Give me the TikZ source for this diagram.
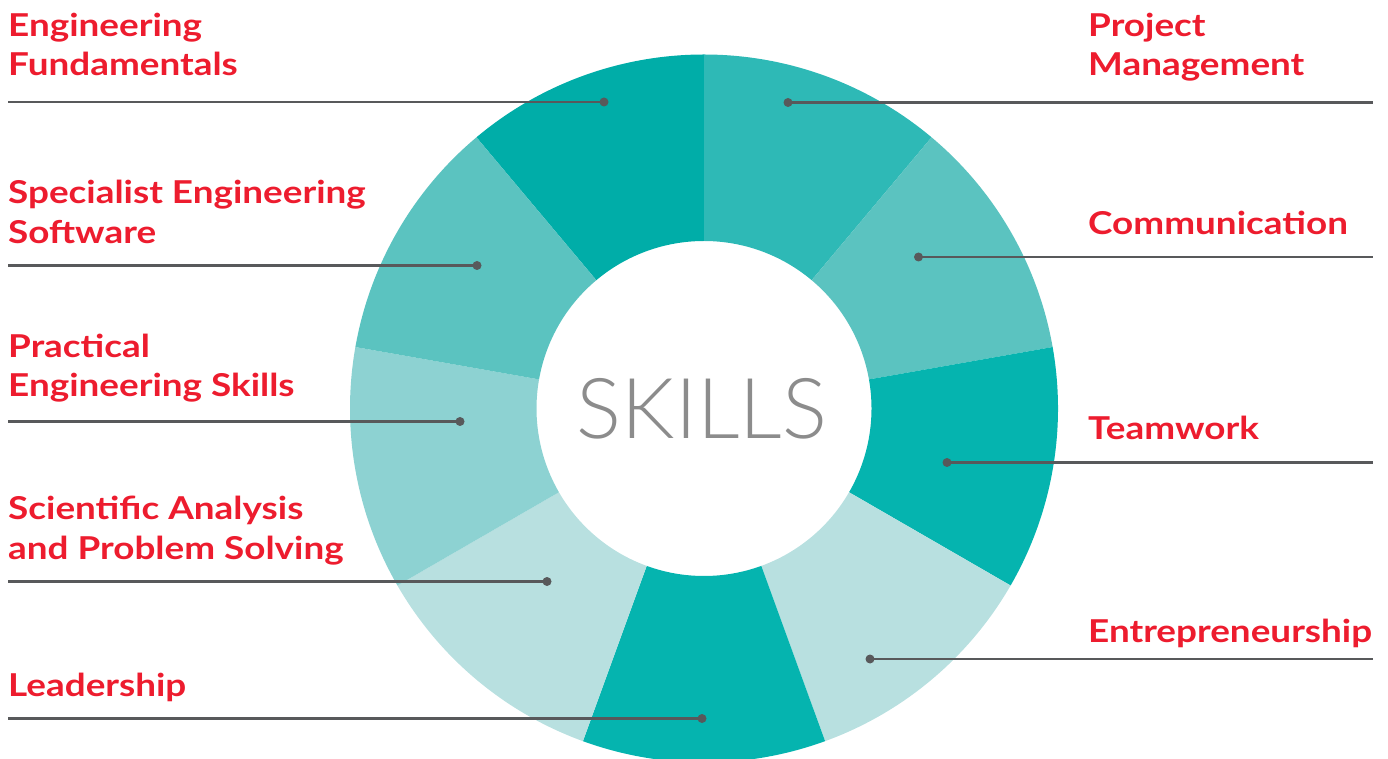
\documentclass[tikz,border=0pt]{standalone}
\usepackage{fontspec}
\setmainfont{Lato}[FakeStretch=1.17]
\newfontfamily\thinfont{Lato Light}
\usetikzlibrary{positioning}
\definecolor{skillred}{HTML}{ED1C2E}
\definecolor{linegray}{HTML}{58595B}
\definecolor{skillgray}{HTML}{8C8C8C}
\definecolor{teal1}{HTML}{00ADA8}
\definecolor{teal2}{HTML}{2EB9B6}
\definecolor{teal3}{HTML}{5BC3C0}
\definecolor{teal4}{HTML}{05B4AF}
\definecolor{teal5}{HTML}{8DD2D2}
\definecolor{teal6}{HTML}{B8E0E0}
\tikzstyle{dot}=[circle,fill=linegray,inner sep=0pt,minimum size=9pt]
\tikzstyle{leader}=[draw=linegray,line width=2.2pt]
\tikzstyle{lbl}=[anchor=base west,inner sep=0pt,align=left,text=skillred,font=\fontsize{31.5}{39.5}\selectfont\bfseries]

\begin{document}
\begin{tikzpicture}[x=1pt,y=1pt]
	\useasboundingbox (0,0) rectangle (1388,758);
	\clip (0,0) rectangle (1388,758);
	\coordinate (c) at (704,349.5);
	% ring of nine segments
	\foreach \a/\b/\col in {90/130/teal1, 50/90/teal2, 10/50/teal3, -30/10/teal4, -70/-30/teal6,
	                        -110/-70/teal4, -150/-110/teal6, 170/210/teal5, 130/170/teal3}
		\fill[\col] ([shift={(\a:354)}]c) arc[start angle=\a,end angle=\b,radius=354]
			-- ([shift={(\b:167.5)}]c) arc[start angle=\b,end angle=\a,radius=167.5] -- cycle;
	\node[font=\thinfont\fontsize{84}{84}\selectfont,text=skillgray,xshift=-2pt] (skills) at (c) {SKILLS};

	% left side
	\node[dot] (ef) at (604,656) {};
	\node[dot] (sp) at (477,492.5) {};
	\node[dot] (pr) at (460,336.5) {};
	\node[dot] (sc) at (547,176.5) {};
	\node[dot] (ld) at (702,39.5) {};
	\coordinate (ef-end) at (8,656);
	\coordinate (sp-end) at (8,492.5);
	\coordinate (pr-end) at (8,336.5);
	\coordinate (sc-end) at (8,176.5);
	\coordinate (ld-end) at (8,39.5);
	\draw[leader] (ef-end) -- (ef.center);
	\draw[leader] (sp-end) -- (sp.center);
	\draw[leader] (pr-end) -- (pr.center);
	\draw[leader] (sc-end) -- (sc.center);
	\draw[leader] (ld-end) -- (ld.center);
	\node[lbl] (ef-txt) at (8,682) {Engineering\\Fundamentals};
	\node[lbl] (sp-txt) at (8,514.7) {Specialist Engineering\\Software};
	\node[lbl] (pr-txt) at (8,361.3) {Practical\\Engineering Skills};
	\node[lbl] (sc-txt) at (8,198.7) {Scientific Analysis\\and Problem Solving};
	\node[lbl] (ld-txt) at (8,62) {Leadership};

	% right side
	\node[dot] (pm) at (788,655.5) {};
	\node[dot] (cm) at (918.5,501) {};
	\node[dot] (tw) at (947,295.5) {};
	\node[dot] (en) at (870,99) {};
	\coordinate (pm-end) at (1373,655.5);
	\coordinate (cm-end) at (1373,501);
	\coordinate (tw-end) at (1373,295.5);
	\coordinate (en-end) at (1373,99);
	\draw[leader] (pm.center) -- (pm-end);
	\draw[leader] (cm.center) -- (cm-end);
	\draw[leader] (tw.center) -- (tw-end);
	\draw[leader] (en.center) -- (en-end);
	\node[lbl] (pm-txt) at (1088,682) {Project\\Management};
	\node[lbl] (cm-txt) at (1088,523) {Communication};
	\node[lbl] (tw-txt) at (1088,318.7) {Teamwork};
	\node[lbl] (en-txt) at (1088,115.3) {Entrepreneurship};
\end{tikzpicture}
\end{document}
